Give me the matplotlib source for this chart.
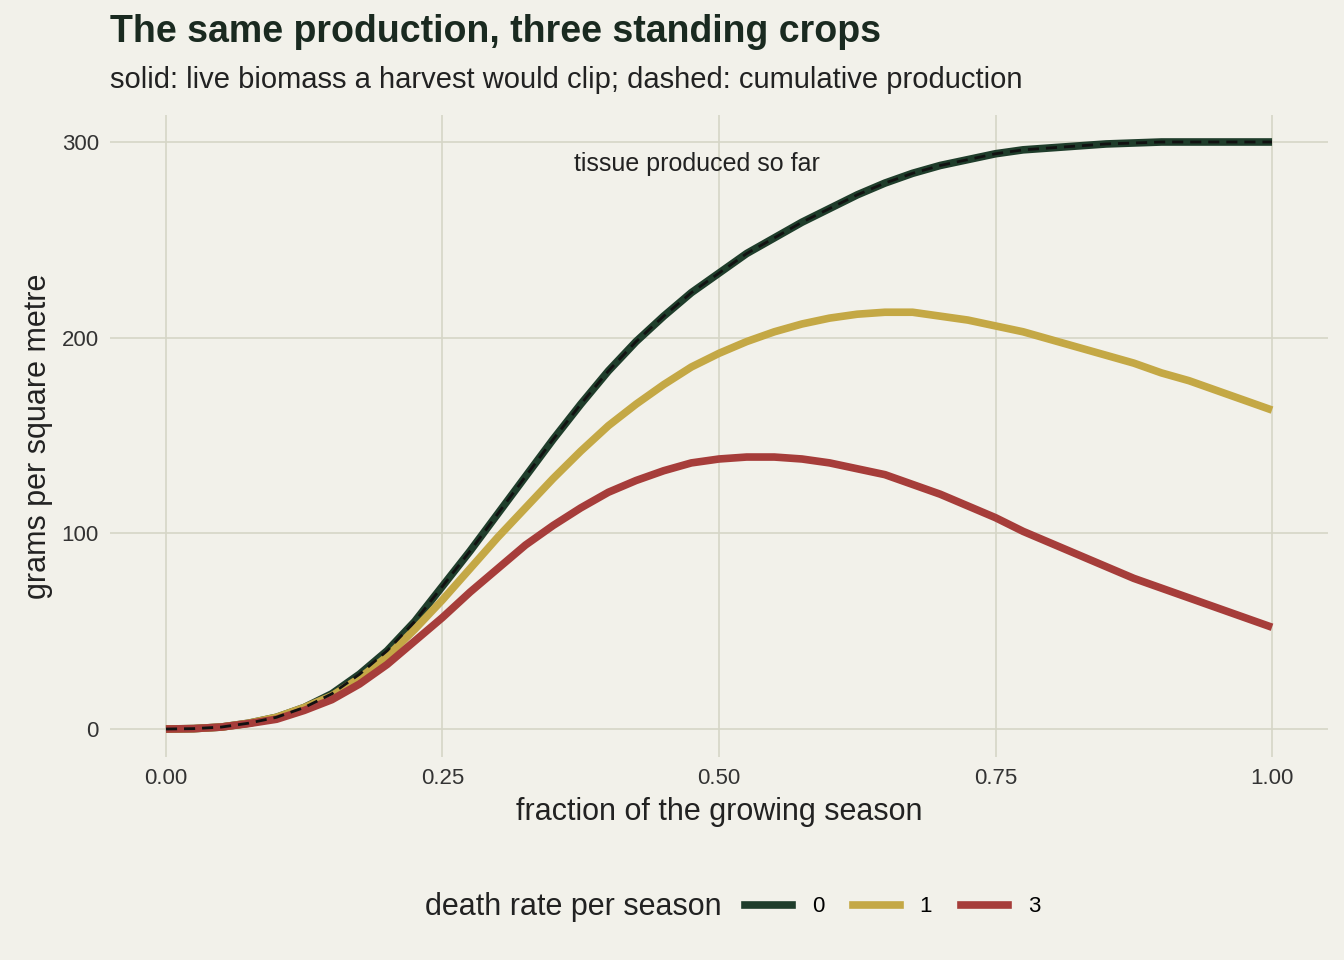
import matplotlib.pyplot as plt
from matplotlib.lines import Line2D

season = [i * 0.025 for i in range(41)]
cumulative = [0, 0.2, 1, 3, 6, 11, 18, 28, 40, 55,
              73, 91, 110, 129, 148, 166, 183, 198, 211, 223,
              233, 243, 251, 259, 266, 273, 279, 284, 288, 291,
              294, 296, 297, 298, 299, 299.5, 300, 300, 300, 300, 300]
live_rate1 = [0, 0.2, 1, 3, 6, 11, 17, 26, 37, 51,
              66, 82, 98, 113, 128, 142, 155, 166, 176, 185,
              192, 198, 203, 207, 210, 212, 213, 213, 211, 209,
              206, 203, 199, 195, 191, 187, 182, 178, 173, 168, 163]
live_rate3 = [0, 0.2, 1, 2.8, 5, 9.5, 15, 23, 33, 45,
              57, 70, 82, 94, 104, 113, 121, 127, 132, 136,
              138, 139, 139, 138, 136, 133, 130, 125, 120, 114,
              108, 101, 95, 89, 83, 77, 72, 67, 62, 57, 52]
rates = ["0", "1", "3"]

BG = "#F2F1EA"
COLORS = ["#1F3D2B", "#C4A845", "#A63D3A"]

plt.rcParams["font.family"] = ["Liberation Sans", "DejaVu Sans"]
fig = plt.figure(figsize=(13.44, 9.6), dpi=100, facecolor=BG)
ax = fig.add_axes([110 / 1344, 1 - 757 / 960, 1218 / 1344, 642 / 960], facecolor=BG)

for series, c in zip([cumulative, live_rate1, live_rate3], COLORS):
    ax.plot(season, series, color=c, lw=5.5, solid_capstyle="butt")
ax.plot(season, cumulative, color="#111111", lw=2, ls=(0, (4, 2.5)))

ax.text(0.48, 289, "tissue produced so far", fontsize=18, color="#222222", ha="center", va="center")

ax.set_xlim(-0.0506, 1.0506)
ax.set_ylim(-14.3, 313.8)
ax.set_xticks([0, 0.25, 0.5, 0.75, 1.0])
ax.set_xticklabels(["0.00", "0.25", "0.50", "0.75", "1.00"])
ax.set_yticks([0, 100, 200, 300])
ax.grid(True, color="#D6D6C6", lw=1.2)
ax.set_axisbelow(True)
for s in ax.spines.values():
    s.set_visible(False)
ax.tick_params(length=0, labelsize=16, colors="#333333", pad=8)
ax.set_xlabel("fraction of the growing season", fontsize=22, color="#222222", labelpad=6)
ax.set_ylabel("grams per square metre", fontsize=22, color="#222222", labelpad=6)

fig.text(110 / 1344, 1 - 32 / 960, "The same production, three standing crops",
         fontsize=27, fontweight="bold", color="#1A2A20", va="center")
fig.text(110 / 1344, 1 - 80 / 960, "solid: live biomass a harvest would clip; dashed: cumulative production",
         fontsize=21, color="#222222", va="center")

fig.text(425 / 1344, 1 - 907 / 960, "death rate per season", fontsize=22, color="#222222", va="center")
handles = [Line2D([], [], color=c, lw=5.5) for c in COLORS]
fig.legend(handles, rates, loc="center left", bbox_to_anchor=(745 / 1344, 1 - 907 / 960),
           ncol=3, frameon=False, fontsize=16, handlelength=2.1, columnspacing=1.3,
           handletextpad=0.9, borderaxespad=0, borderpad=0)

fig.savefig("out.png", dpi=100, facecolor=BG)
